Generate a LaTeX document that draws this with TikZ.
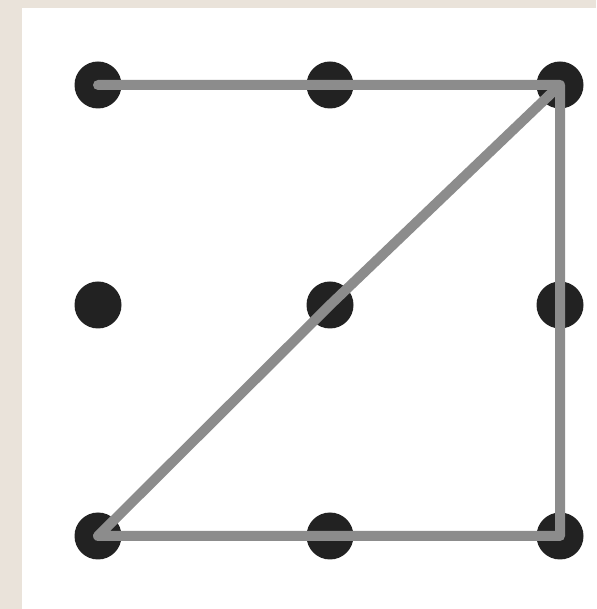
\documentclass[tikz,border=0pt]{standalone}
\definecolor{paper}{HTML}{EAE3DA}
\definecolor{dotgray}{HTML}{222222}
\definecolor{linkgray}{HTML}{8C8C8C}
\tikzset{every picture/.style={line width=0.75pt}}

\begin{document}
\begin{tikzpicture}[line join=round, line cap=round]
	\fill[paper] (0,0) rectangle (11.92,12.18);
	\fill[white] (0.44,0) rectangle (11.92,12.02);
	\useasboundingbox (0,0) rectangle (11.92,12.18);
	\path
	(1.96,10.48) coordinate (A1)
	(6.6,10.48) coordinate (A2)
	(11.2,10.48) coordinate (A3)
	(1.96,6.08) coordinate (B1)
	(6.6,6.08) coordinate (B2)
	(11.2,6.08) coordinate (B3)
	(1.96,1.46) coordinate (C1)
	(6.6,1.46) coordinate (C2)
	(11.2,1.46) coordinate (C3);
	\foreach \x in {A1,A2,A3,B1,B2,B3,C1,C2,C3}\fill[dotgray] (\x) circle (0.47);
	\draw[linkgray, line width=0.2cm] (A1)--(A2)--(A3)--(B2)--(C1)--(C2)--(C3)--(B3)--(A3);
\end{tikzpicture}
\end{document}
